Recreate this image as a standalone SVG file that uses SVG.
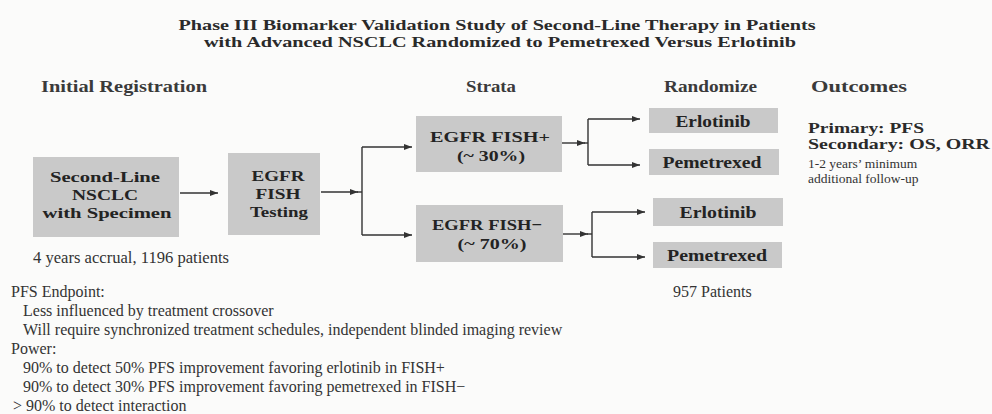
<svg xmlns="http://www.w3.org/2000/svg" width="992" height="414" viewBox="0 0 992 414">
<defs>
<style>
.bg{fill:#fbfbfa}
.box{fill:#c9c9c9}
.ti{font-family:"Liberation Serif","Times New Roman",serif;font-weight:bold;font-size:15.5px;fill:#2a2a2a;text-anchor:middle}
.h{font-family:"Liberation Serif","Times New Roman",serif;font-weight:bold;font-size:17px;fill:#3a3a3a}
.bx{font-family:"Liberation Serif","Times New Roman",serif;font-weight:bold;font-size:15.5px;fill:#232323;text-anchor:middle}
.bx1{font-family:"Liberation Serif","Times New Roman",serif;font-weight:bold;font-size:17px;fill:#232323;text-anchor:middle}
.oc{font-family:"Liberation Serif","Times New Roman",serif;font-weight:bold;font-size:15.5px;fill:#2a2a2a}
.r{font-family:"Liberation Serif","Times New Roman",serif;font-size:16px;fill:#333}
.s{font-family:"Liberation Serif","Times New Roman",serif;font-size:13.5px;fill:#333}
.c{fill:none;stroke:#333;stroke-width:1.4}
</style>
<marker id="ah" markerWidth="9" markerHeight="7" refX="8" refY="3.5" orient="auto" markerUnits="userSpaceOnUse"><path d="M0,0.5 L8,3.5 L0,6.5 z" fill="#333"/></marker>
</defs>
<rect class="bg" x="0" y="0" width="992" height="414"/>

<g id="title">
<text class="ti" x="497" y="30" textLength="637" lengthAdjust="spacingAndGlyphs">Phase III Biomarker Validation Study of Second-Line Therapy in Patients</text>
<text class="ti" x="500" y="47" textLength="592" lengthAdjust="spacingAndGlyphs">with Advanced NSCLC Randomized to Pemetrexed Versus Erlotinib</text>
</g>

<g id="headers">
<text class="h" x="41" y="92" textLength="166" lengthAdjust="spacingAndGlyphs">Initial Registration</text>
<text class="h" x="466" y="92" textLength="50" lengthAdjust="spacingAndGlyphs">Strata</text>
<text class="h" x="664" y="92" textLength="93" lengthAdjust="spacingAndGlyphs">Randomize</text>
<text class="h" x="811" y="92" textLength="96" lengthAdjust="spacingAndGlyphs">Outcomes</text>
</g>

<g id="connectors">
<path class="c" d="M180,193 H218" marker-end="url(#ah)"/>
<path class="c" d="M321,192 H358" marker-end="url(#ah)"/>
<path class="c" d="M357,192 H362"/>
<path class="c" d="M362,147 V235"/>
<path class="c" d="M362,147 H412" marker-end="url(#ah)"/>
<path class="c" d="M362,235 H412" marker-end="url(#ah)"/>
<path class="c" d="M562,143 H585" marker-end="url(#ah)"/>
<path class="c" d="M584,143 H588"/>
<path class="c" d="M588,119 V165"/>
<path class="c" d="M588,119 H640" marker-end="url(#ah)"/>
<path class="c" d="M588,165 H640" marker-end="url(#ah)"/>
<path class="c" d="M563,234 H588" marker-end="url(#ah)"/>
<path class="c" d="M587,234 H592"/>
<path class="c" d="M592,212 V257"/>
<path class="c" d="M592,212 H645" marker-end="url(#ah)"/>
<path class="c" d="M592,257 H645" marker-end="url(#ah)"/>
</g>

<g id="node-second-line">
<rect class="box" x="33" y="157" width="146" height="80"/>
<text class="bx" x="105" y="182" textLength="110" lengthAdjust="spacingAndGlyphs">Second-Line</text>
<text class="bx" x="105" y="200" textLength="66" lengthAdjust="spacingAndGlyphs">NSCLC</text>
<text class="bx" x="107" y="218" textLength="129" lengthAdjust="spacingAndGlyphs">with Specimen</text>
</g>

<g id="node-egfr-testing">
<rect class="box" x="228" y="153" width="92" height="82"/>
<text class="bx" x="278" y="181" textLength="53" lengthAdjust="spacingAndGlyphs">EGFR</text>
<text class="bx" x="278" y="199" textLength="45" lengthAdjust="spacingAndGlyphs">FISH</text>
<text class="bx" x="279" y="217" textLength="58" lengthAdjust="spacingAndGlyphs">Testing</text>
</g>

<g id="node-fish-pos">
<rect class="box" x="416" y="116" width="146" height="56"/>
<text class="bx" x="490" y="142" textLength="120" lengthAdjust="spacingAndGlyphs">EGFR FISH+</text>
<text class="bx" x="491" y="161" textLength="68" lengthAdjust="spacingAndGlyphs">(~ 30%)</text>
</g>

<g id="node-fish-neg">
<rect class="box" x="416" y="205" width="147" height="57"/>
<text class="bx" x="487" y="230" textLength="110" lengthAdjust="spacingAndGlyphs">EGFR FISH−</text>
<text class="bx" x="492" y="249" textLength="69" lengthAdjust="spacingAndGlyphs">(~ 70%)</text>
</g>

<g id="node-erlotinib-1">
<rect class="box" x="649" y="108" width="129" height="25"/>
<text class="bx1" x="713" y="127" textLength="75" lengthAdjust="spacingAndGlyphs">Erlotinib</text>
</g>

<g id="node-pemetrexed-1">
<rect class="box" x="649" y="149" width="130" height="26"/>
<text class="bx1" x="712" y="168" textLength="99" lengthAdjust="spacingAndGlyphs">Pemetrexed</text>
</g>

<g id="node-erlotinib-2">
<rect class="box" x="653" y="198" width="130" height="28"/>
<text class="bx1" x="718" y="218" textLength="77" lengthAdjust="spacingAndGlyphs">Erlotinib</text>
</g>

<g id="node-pemetrexed-2">
<rect class="box" x="653" y="242" width="129" height="26"/>
<text class="bx1" x="717" y="261" textLength="100" lengthAdjust="spacingAndGlyphs">Pemetrexed</text>
</g>

<g id="outcomes">
<text class="oc" x="808" y="133" textLength="116" lengthAdjust="spacingAndGlyphs">Primary: PFS</text>
<text class="oc" x="808" y="149" textLength="182" lengthAdjust="spacingAndGlyphs">Secondary: OS, ORR</text>
<text class="s" x="808" y="168">1-2 years’ minimum</text>
<text class="s" x="808" y="183">additional follow-up</text>
</g>

<g id="notes">
<text class="r" x="33" y="263" textLength="196" lengthAdjust="spacingAndGlyphs">4 years accrual, 1196 patients</text>
<text class="r" x="673" y="297">957 Patients</text>
<text class="r" x="11" y="297">PFS Endpoint:</text>
<text class="r" x="23" y="316">Less influenced by treatment crossover</text>
<text class="r" x="23" y="335">Will require synchronized treatment schedules, independent blinded imaging review</text>
<text class="r" x="11" y="354">Power:</text>
<text class="r" x="23" y="373">90% to detect 50% PFS improvement favoring erlotinib in FISH+</text>
<text class="r" x="23" y="392">90% to detect 30% PFS improvement favoring pemetrexed in FISH−</text>
<text class="r" x="13" y="411">&gt; 90% to detect interaction</text>
</g>
</svg>
